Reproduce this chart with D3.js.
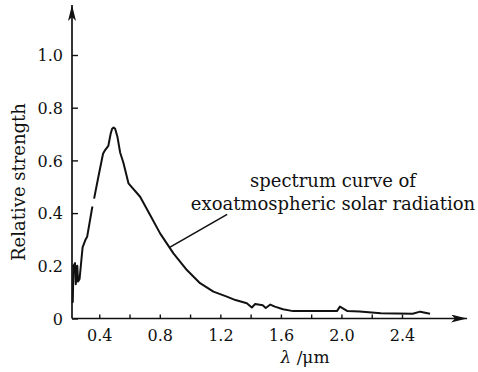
<!DOCTYPE html>
<html>
<head>
<meta charset="utf-8">
<script src="https://cdn.jsdelivr.net/npm/d3@7"></script>
<style>
  body { margin: 0; background: #fff; }
  svg { display: block; }
  .tick text { font-family: "DejaVu Serif", serif; font-size: 16px; fill: #111; }
  .tick line { stroke: #111; stroke-width: 1.4; }
</style>
</head>
<body>
<div id="chart"></div>
<script>
var width = 478,
    height = 372;

// wavelength (um) and relative strength
var wavelength = [0.225, 0.23, 0.24, 0.245, 0.255, 0.26, 0.27, 0.29, 0.31, 0.32, 0.35, 0.355, null, 0.366, 0.395,
  0.425, 0.44, 0.46, 0.475, 0.485, 0.495, 0.505, 0.52, 0.538, 0.56, 0.593, 0.67, 0.736, 0.802, 0.89,
  0.979, 1.066, 1.154, 1.243, 1.3, 1.375, 1.408, 1.43, 1.48, 1.5, 1.53, 1.56, 1.614, 1.68, 1.8,
  1.97, 1.99, 2.04, 2.12, 2.26, 2.47, 2.52, 2.585];
var strength = [0.06, 0.2, 0.21, 0.13, 0.2, 0.14, 0.15, 0.27, 0.3, 0.31, 0.41, 0.425, null, 0.455, 0.54,
  0.625, 0.64, 0.655, 0.7, 0.72, 0.725, 0.72, 0.69, 0.63, 0.59, 0.513, 0.462, 0.393, 0.323, 0.247,
  0.184, 0.134, 0.102, 0.083, 0.07, 0.058, 0.042, 0.055, 0.05, 0.04, 0.053, 0.045, 0.035, 0.028, 0.028,
  0.028, 0.045, 0.028, 0.027, 0.02, 0.018, 0.026, 0.018];

var xTicks = [0.4, 0.6, 0.8, 1.0, 1.2, 1.4, 1.6, 1.8, 2.0, 2.2, 2.4];
var xLabels = [0.4, 0.8, 1.2, 1.6, 2.0, 2.4];
var yTicks = [0, 0.2, 0.4, 0.6, 0.8, 1.0];

var annotation = ["spectrum curve of", "exoatmospheric solar radiation"];

var x = d3.scaleLinear().domain([0.22, 2.4]).range([72, 402]);
var y = d3.scaleLinear().domain([0, 1.0]).range([318.5, 55]);

var svg = d3.select("#chart").append("svg")
    .attr("width", width)
    .attr("height", height);

svg.append("rect").attr("width", width).attr("height", height).attr("fill", "#fff");

// arrow heads
var defs = svg.append("defs");
defs.append("marker")
    .attr("id", "arrow")
    .attr("viewBox", "0 0 16 8")
    .attr("refX", 16).attr("refY", 4)
    .attr("markerWidth", 16).attr("markerHeight", 8)
    .attr("markerUnits", "userSpaceOnUse")
    .attr("orient", "auto")
  .append("path")
    .attr("d", "M0,0 L16,4 L0,8 L4,4 Z")
    .attr("fill", "#111");

/* Axes */
var xAxis = d3.axisBottom(x)
    .tickValues(xTicks)
    .tickSizeInner(-4)
    .tickSizeOuter(0)
    .tickPadding(11)
    .tickFormat(function(d){
      return xLabels.some(function(v){ return Math.abs(v - d) < 1e-6; }) ? d3.format(".1f")(d) : "";
    });

var yAxis = d3.axisLeft(y)
    .tickValues(yTicks)
    .tickSizeInner(-6)
    .tickSizeOuter(0)
    .tickPadding(9)
    .tickFormat(function(d){ return d === 0 ? "0" : d3.format(".1f")(d); });

svg.append("g")
    .attr("transform", "translate(0," + y(0) + ")")
    .call(xAxis)
    .call(function(g){ g.select(".domain").remove(); });

svg.append("g")
    .attr("transform", "translate(" + x(0.22) + ",0)")
    .call(yAxis)
    .call(function(g){
      g.select(".domain").remove();
      g.selectAll(".tick text").attr("dy", "0.36em");
    });

// axis lines with arrows
svg.append("line")
    .attr("x1", x(0.22)).attr("y1", y(0))
    .attr("x2", x(2.83)).attr("y2", y(0))
    .attr("stroke", "#111").attr("stroke-width", 1.7)
    .attr("marker-end", "url(#arrow)");

svg.append("line")
    .attr("x1", x(0.22)).attr("y1", y(0))
    .attr("x2", x(0.22)).attr("y2", y(1.19))
    .attr("stroke", "#111").attr("stroke-width", 1.7)
    .attr("marker-end", "url(#arrow)");

/* Curve */
var points = wavelength.map(function(w, i){ return [w, strength[i]]; });

var line = d3.line()
    .defined(function(d){ return d[0] != null; })
    .x(function(d){ return x(d[0]); })
    .y(function(d){ return y(d[1]); });

svg.append("path")
    .datum(points)
    .attr("d", line)
    .attr("fill", "none")
    .attr("stroke", "#111")
    .attr("stroke-width", 2)
    .attr("stroke-linejoin", "round");

/* Annotation */
svg.append("line")
    .attr("x1", x(0.865)).attr("y1", y(0.27))
    .attr("x2", x(1.245)).attr("y2", y(0.395))
    .attr("stroke", "#111").attr("stroke-width", 1.6);

svg.append("g").selectAll("text")
    .data(annotation)
    .enter()
    .append("text")
    .attr("x", 333)
    .attr("y", function(d, i){ return 187 + i * 23; })
    .attr("text-anchor", "middle")
    .style("font-family", "DejaVu Serif, serif")
    .style("font-size", "18px")
    .attr("fill", "#111")
    .text(function(d){ return d; });

// axis titles
svg.append("text")
    .attr("transform", "translate(25,182) rotate(-90)")
    .attr("text-anchor", "middle")
    .style("font-family", "DejaVu Serif, serif")
    .style("font-size", "18px")
    .attr("fill", "#111")
    .text("Relative strength");

var xTitle = svg.append("text")
    .attr("x", 305)
    .attr("y", 363)
    .attr("text-anchor", "middle")
    .style("font-family", "DejaVu Serif, serif")
    .style("font-size", "17px")
    .attr("fill", "#111");
xTitle.append("tspan").style("font-style", "italic").text("λ");
xTitle.append("tspan").text(" /μm");
</script>
</body>
</html>
